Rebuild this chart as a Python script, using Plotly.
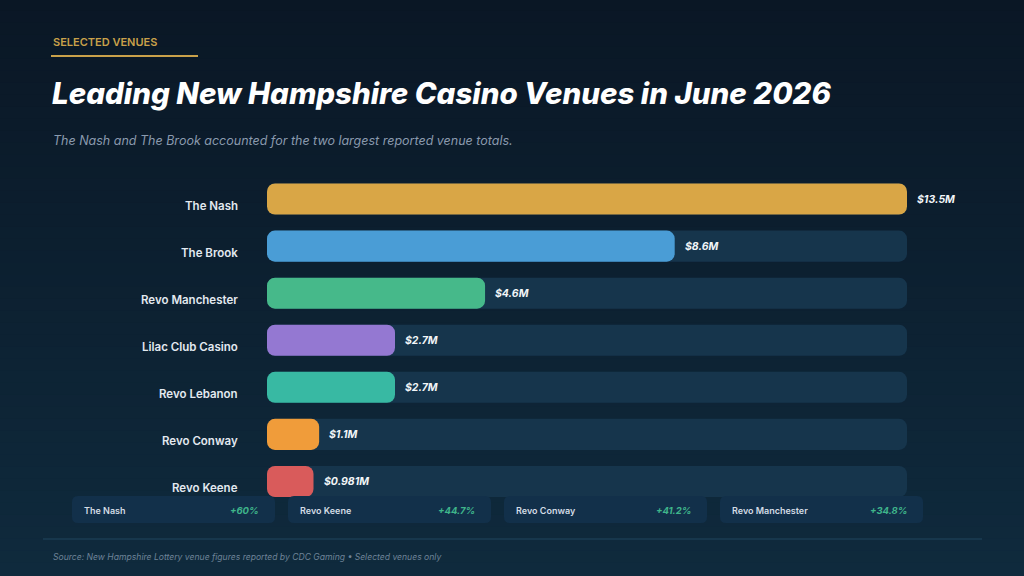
import plotly.graph_objects as go

W, H = 1024, 576

venues = ["The Nash", "The Brook", "Revo Manchester", "Lilac Club Casino",
          "Revo Lebanon", "Revo Conway", "Revo Keene"]
revenue_m = [13.5, 8.6, 4.6, 2.7, 2.7, 1.1, 0.981]
value_labels = ["$13.5M", "$8.6M", "$4.6M", "$2.7M", "$2.7M", "$1.1M", "$0.981M"]
bar_colors = ["#D9A646", "#4A9DD6", "#46B98A", "#9478D2", "#38B9A3",
              "#F09C3A", "#D95B5B"]

growth_venues = ["The Nash", "Revo Keene", "Revo Conway", "Revo Manchester"]
growth_labels = ["+60%", "+44.7%", "+41.2%", "+34.8%"]

FONT = "Inter"
XMAX = max(revenue_m)


def px(x):
    return x / W


def py(y):
    return 1 - y / H


def rounded_rect(x0, y0, x1, y1, r):
    # pixel box -> paper-coord svg path with rounded corners
    rx, ry = r / W, r / H
    a, b, c, d = px(x0), py(y1), px(x1), py(y0)
    return (f"M{a+rx},{b} L{c-rx},{b} Q{c},{b} {c},{b+ry} L{c},{d-ry} "
            f"Q{c},{d} {c-rx},{d} L{a+rx},{d} Q{a},{d} {a},{d-ry} "
            f"L{a},{b+ry} Q{a},{b} {a+rx},{b} Z")


fig = go.Figure()

zeros = [0] * len(venues)
track = [XMAX] * len(venues)
fig.add_trace(go.Bar(x=track, y=venues, base=zeros, orientation="h", width=0.66,
                     marker=dict(color="#16354C", cornerradius=8, line_width=0),
                     hoverinfo="skip", showlegend=False))
fig.add_trace(go.Bar(x=revenue_m, y=venues, base=zeros, orientation="h",
                     width=0.66, showlegend=False,
                     marker=dict(color=bar_colors, cornerradius=8, line_width=0),
                     hovertemplate="%{y}: $%{x}M<extra></extra>"))

shapes = []
# background gradient in bands
top, bot = (10, 23, 37), (15, 42, 61)
n = 48
for i in range(n):
    t = i / (n - 1)
    col = tuple(round(top[k] + (bot[k] - top[k]) * t) for k in range(3))
    shapes.append(dict(type="rect", xref="paper", yref="paper", layer="below",
                       x0=0, x1=1, y0=1 - (i + 1) / n, y1=1 - i / n + 0.002,
                       fillcolor="rgb(%d,%d,%d)" % col, line_width=0))

# eyebrow underline
shapes.append(dict(type="line", xref="paper", yref="paper",
                   x0=px(51), x1=px(198), y0=py(56), y1=py(56),
                   line=dict(color="#C9A14A", width=2)))
# footer divider
shapes.append(dict(type="line", xref="paper", yref="paper",
                   x0=px(43), x1=px(982), y0=py(539), y1=py(539),
                   line=dict(color="#21475F", width=1)))

annotations = [
    dict(text="SELECTED VENUES", x=px(51), y=py(42),
         font=dict(size=11, color="#C9A14A", weight=600)),
    dict(text="<i>Leading New Hampshire Casino Venues in June 2026</i>",
         x=px(50), y=py(93), font=dict(size=29.5, color="#FFFFFF", weight=800)),
    dict(text="<i>The Nash and The Brook accounted for the two largest reported venue totals.</i>",
         x=px(51), y=py(141), font=dict(size=12.5, color="#8A9AAE")),
    dict(text="<i>Source: New Hampshire Lottery venue figures reported by CDC Gaming • Selected venues only</i>",
         x=px(51), y=py(557), font=dict(size=8.6, color="#6E8398")),
]
for a in annotations:
    a.update(xref="paper", yref="paper", xanchor="left", yanchor="middle",
             showarrow=False)

for name in venues:
    annotations.append(dict(text=name, xref="paper", yref="y",
                            x=px(240), y=name, xanchor="right", yanchor="middle",
                            yshift=-7, showarrow=False,
                            font=dict(size=11.5, color="#E3E9F0", weight=600)))

for name, v, lab in zip(venues, revenue_m, value_labels):
    annotations.append(dict(text="<b><i>%s</i></b>" % lab, xref="x", yref="y",
                            x=v, y=name, xanchor="left", yanchor="middle",
                            xshift=8, showarrow=False,
                            font=dict(size=10.5, color="#F2F5F8")))

card_x = [72, 288, 504, 720]
card_w = 203
for cx, name, g in zip(card_x, growth_venues, growth_labels):
    shapes.append(dict(type="path", xref="paper", yref="paper", layer="above",
                       path=rounded_rect(cx, 496, cx + card_w, 523, 6),
                       fillcolor="#12304A", line_width=0))
    annotations.append(dict(text=name, xref="paper", yref="paper",
                            x=px(cx + 10), y=py(510), xanchor="left",
                            yanchor="middle", showarrow=False,
                            font=dict(size=9, color="#D3DCE5", weight=600)))
    annotations.append(dict(text="<b><i>%s</i></b>" % g, xref="paper", yref="paper",
                            x=px(cx + card_w - 14), y=py(510), xanchor="right",
                            yanchor="middle", showarrow=False,
                            font=dict(size=9.5, color="#3FB58A")))

fig.update_layout(
    width=W, height=H,
    margin=dict(l=0, r=0, t=0, b=0),
    paper_bgcolor="#0C1E2F", plot_bgcolor="rgba(0,0,0,0)",
    font=dict(family=FONT),
    barmode="overlay",
    shapes=shapes,
    annotations=annotations,
    xaxis=dict(domain=[px(267), px(907)], range=[0, XMAX],
               visible=False, fixedrange=True),
    yaxis=dict(domain=[py(505), py(175.5)], autorange="reversed",
               visible=False, fixedrange=True),
)

fig.write_html("out.html", config={"displayModeBar": False},
               post_script="document.body.style.margin='0';"
                           "document.body.style.overflow='hidden';")
